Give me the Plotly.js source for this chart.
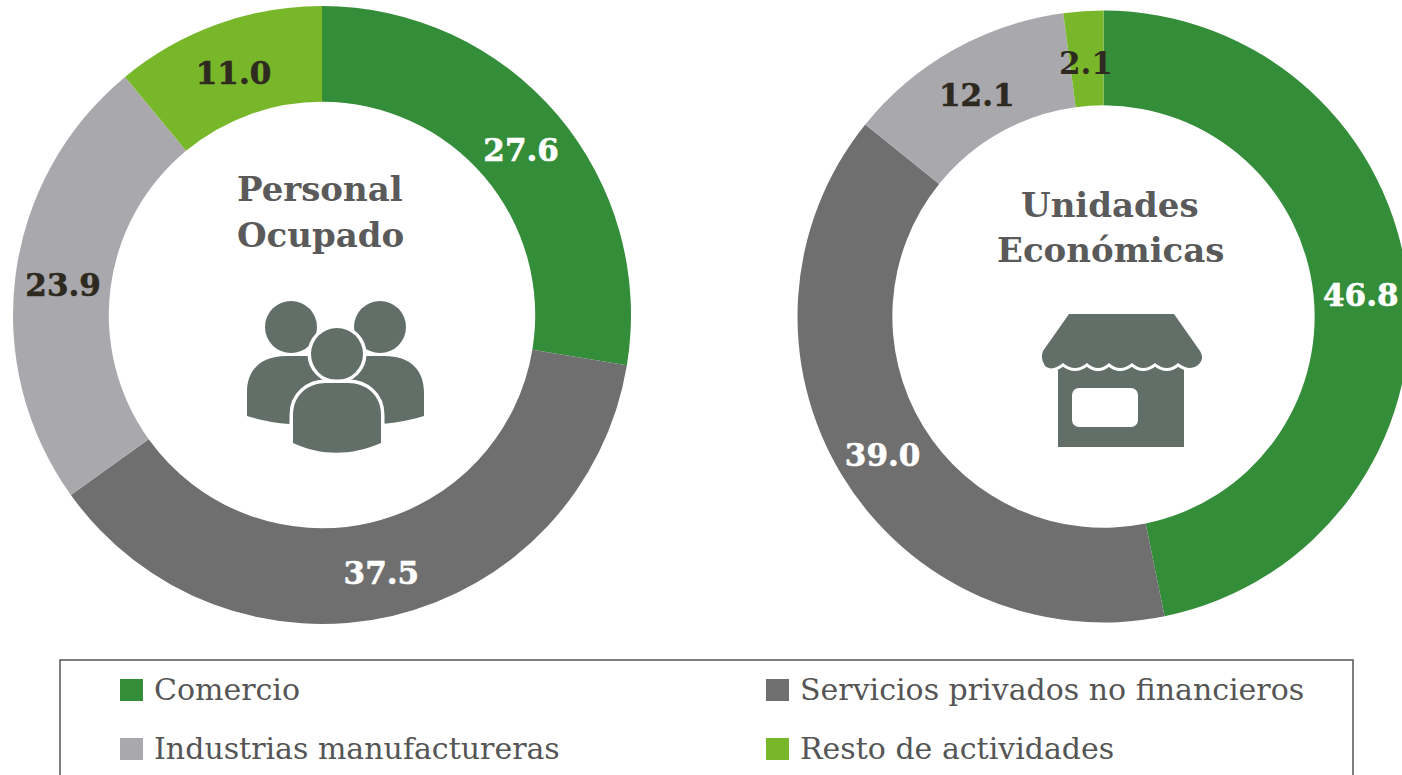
<!DOCTYPE html>
<html><head><meta charset="utf-8">
<script src="https://cdn.plot.ly/plotly-3.0.1.min.js"></script>
<style>html,body{margin:0;padding:0;background:#fff;overflow:hidden;width:1402px;height:775px}</style>
</head><body><div id="chart"></div>
<script>
const categories = ["Comercio","Servicios privados no financieros","Industrias manufactureras","Resto de actividades"];
const personalValues = [27.6,37.5,23.9,11.0];
const unidadesValues = [46.8,39.0,12.1,2.1];
const personalLabels = ["27.6","37.5","23.9","11.0"];
const unidadesLabels = ["46.8","39.0","12.1",""];
const smallSliceLabel = "2.1";
const sliceColors = ["#348d39","#6f6f6f","#a9a9ad","#78b72a"];
const personalTextColors = ["#ffffff","#ffffff","#2f2a20","#2f2a20"];
const unidadesTextColors = ["#ffffff","#ffffff","#2f2a20","#2f2a20"];
const SERIF = "'DejaVu Serif','Liberation Serif',serif";
const W=1420,H=775;
function dom(l,r,t,b){return {x:[l/W,r/W],y:[1-b/H,1-t/H]};}
function pie(vals,labs,tc,d,name){return {type:'pie',name,labels:categories,values:vals,text:labs,textinfo:'text',hole:0.69,sort:false,direction:'clockwise',rotation:0,
 marker:{colors:sliceColors,line:{width:0}},textposition:'inside',insidetextorientation:'horizontal',
 textfont:{family:SERIF,size:31,color:tc,weight:700},showlegend:false,domain:d};}
const data=[pie(personalValues,personalLabels,personalTextColors,dom(13,631,6,624),'Personal Ocupado'),
            pie(unidadesValues,unidadesLabels,unidadesTextColors,dom(797.5,1409.5,10.5,622.5),'Unidades Económicas')];
function px(x){return x/W}function py(y){return 1-y/H}
function ann(x,y,t,size,color,weight,anchor){return {xref:'paper',yref:'paper',x:px(x),y:py(y),text:t,showarrow:false,xanchor:anchor||'center',yanchor:'middle',
 font:{family:SERIF,size,color,weight:weight||400}};}
const annotations=[
 ann(320,189,'Personal',34,'#5a5a5a',700),ann(320,235,'Ocupado',34,'#5a5a5a',700),
 ann(1110,205,'Unidades',34,'#5a5a5a',700),ann(1110,250,'Económicas',34,'#5a5a5a',700),
 ann(1086,63,smallSliceLabel,31,'#2f2a20',700),
 ann(152,689,categories[0],30,'#555555',400,'left'),ann(798,689,categories[1],30,'#555555',400,'left'),
 ann(152,748,categories[2],30,'#555555',400,'left'),ann(798,748,categories[3],30,'#555555',400,'left')];
function rect(x0,y0,x1,y1,fill,line){return {type:'rect',xref:'paper',yref:'paper',x0:px(x0),x1:px(x1),y0:py(y0),y1:py(y1),fillcolor:fill,line:line||{width:0}};}
const shapes=[
 rect(60,660,1353,800,'rgba(0,0,0,0)',{color:'#555555',width:1.5}),
 rect(120,679,143,701,sliceColors[0]),rect(766,679,789,701,sliceColors[1]),
 rect(120,738,143,760,sliceColors[2]),rect(766,738,789,760,sliceColors[3])];
const iconPeople=`<svg xmlns='http://www.w3.org/2000/svg' viewBox='0 0 180 156'><g fill='#626f68'>
<circle cx='45' cy='27' r='26'/><circle cx='134' cy='27' r='26'/>
<path d='M1 116C12 119 25 123 46 124L80 100V56H40C15 56 1 70 1 92Z'/>
<path d='M178 116C167 119 154 123 133 124L100 100V56H139C164 56 178 70 178 92Z'/>
</g><g fill='#626f68' stroke='#fff' stroke-width='7' paint-order='stroke'><circle cx='91' cy='54' r='26'/>
<path d='M47 143V115C47 95 62 83 80 83H102C120 83 135 95 135 115V143C105 156 75 156 47 143Z'/></g></svg>`;
const iconStore=`<svg xmlns='http://www.w3.org/2000/svg' viewBox='0 0 164 134'>
<rect x='18' y='48' width='126' height='86' fill='#626f68'/>
<path d='M29 1H134L160 38Q165 46 158 52Q150 59 138 50Q127 60 115 50Q103 60 92 50Q80 60 69 50Q58 60 47 50Q35 60 23 50Q12 59 5 53Q0 46 3 38Z' fill='#626f68' stroke='#fff' stroke-width='6' paint-order='stroke'/>
<rect x='32' y='75' width='66' height='39' rx='7' fill='#fff'/></svg>`;
const images=[
 {source:'data:image/svg+xml;utf8,'+encodeURIComponent(iconPeople),xref:'paper',yref:'paper',x:px(246),y:py(300),sizex:180/W,sizey:156/H,xanchor:'left',yanchor:'top',sizing:'stretch',layer:'above'},
 {source:'data:image/svg+xml;utf8,'+encodeURIComponent(iconStore),xref:'paper',yref:'paper',x:px(1040),y:py(313),sizex:164/W,sizey:134/H,xanchor:'left',yanchor:'top',sizing:'stretch',layer:'above'}];
Plotly.newPlot('chart',data,{width:W,height:H,margin:{l:0,r:0,t:0,b:0},paper_bgcolor:'#fff',annotations,shapes,images,showlegend:false},{displayModeBar:false,staticPlot:true}).then(gd=>{
 // nudge slice labels to the reference's baseline and match its heavier weight
 gd.querySelectorAll('.slicetext').forEach(t=>{
  const prev=t.getAttribute('transform')||'';
  t.setAttribute('transform','translate(0,2) '+prev);
  t.style.stroke=t.style.fill; t.style.strokeWidth='0.6px';
 });
});
</script></body></html>
